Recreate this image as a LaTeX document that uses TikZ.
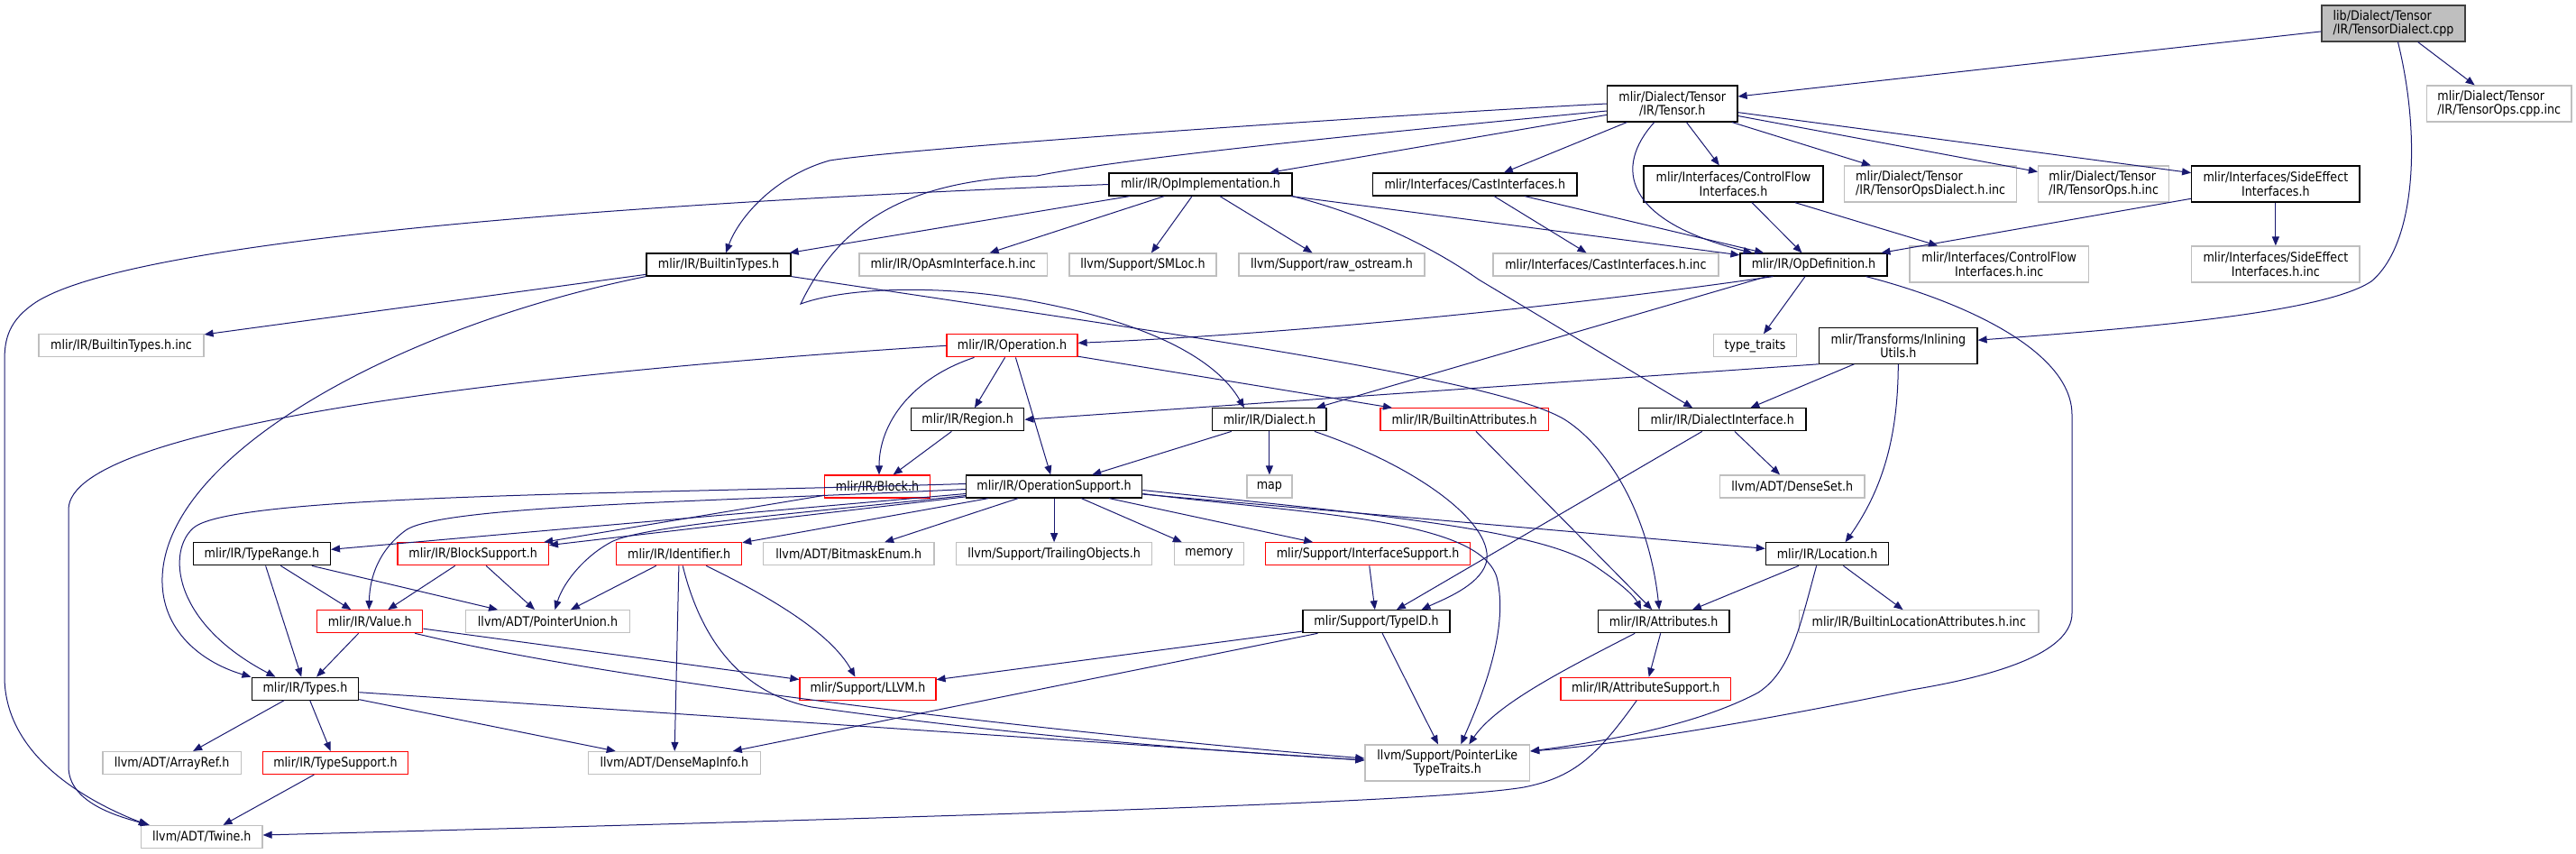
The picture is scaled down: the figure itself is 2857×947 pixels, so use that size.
\documentclass[tikz,border=0pt]{standalone}
\usepackage{fontspec}
\setmainfont{DejaVu Sans}[FakeStretch=0.87]
\usetikzlibrary{arrows.meta}
\definecolor{edgec}{HTML}{191970}
\definecolor{greyb}{HTML}{BFBFBF}
\definecolor{mainb}{HTML}{404040}
\definecolor{redb}{HTML}{FF0000}
\tikzset{
 base/.style={rectangle, inner sep=0pt, minimum height=25pt, line width=1.2pt, fill=white, font=\fontsize{14.6}{15.2}\selectfont, text=black, align=center},
 blk/.style={base, draw=black},
 gry/.style={base, draw=greyb},
 rd/.style={base, draw=redb},
 mainn/.style={base, draw=mainb, fill=greyb},
 twoln/.style={minimum height=40pt},
 e/.style={draw=edgec, line width=1pt, -{Triangle[length=10pt,width=8pt]}},
}
\begin{document}
\begin{tikzpicture}[x=1pt,y=-1pt]
\useasboundingbox (0,0) rectangle (2857,947);
% nodes
\node[mainn,twoln,minimum width=159pt,align=left] (cpp) at (2654.5,26) {lib/Dialect/Tensor\\/IR/TensorDialect.cpp};
\node[blk,twoln,minimum width=144.5pt] (tensorh) at (1854.75,115) {mlir/Dialect/Tensor\\/IR/Tensor.h};
\node[gry,twoln,minimum width=160.5pt,align=left] (opscppinc) at (2771.75,115) {mlir/Dialect/Tensor\\/IR/TensorOps.cpp.inc};
\node[blk,minimum width=203pt] (opimpl) at (1331.5,204.5) {mlir/IR/OpImplementation.h};
\node[blk,minimum width=226.4pt] (castif) at (1635.8,204.5) {mlir/Interfaces/CastInterfaces.h};
\node[blk,twoln,minimum width=199pt] (cfif) at (1922.5,204) {mlir/Interfaces/ControlFlow\\Interfaces.h};
\node[gry,twoln,minimum width=191pt,align=left] (opsdialinc) at (2141.1,204) {mlir/Dialect/Tensor\\/IR/TensorOpsDialect.h.inc};
\node[gry,twoln,minimum width=145.3pt,align=left] (opshinc) at (2333.15,204) {mlir/Dialect/Tensor\\/IR/TensorOps.h.inc};
\node[blk,twoln,minimum width=186.3pt] (seif) at (2523.85,204) {mlir/Interfaces/SideEffect\\Interfaces.h};
\node[blk,minimum width=160pt] (builtintypes) at (797,293.5) {mlir/IR/BuiltinTypes.h};
\node[gry,minimum width=208.5pt] (opasminc) at (1057.25,293.5) {mlir/IR/OpAsmInterface.h.inc};
\node[gry,minimum width=163pt] (smloc) at (1267.5,293.5) {llvm/Support/SMLoc.h};
\node[gry,minimum width=206pt] (rawos) at (1477,293.5) {llvm/Support/raw\_ostream.h};
\node[gry,minimum width=250pt] (castinc) at (1780.9,293.5) {mlir/Interfaces/CastInterfaces.h.inc};
\node[blk,minimum width=163pt] (opdef) at (2011.5,293.5) {mlir/IR/OpDefinition.h};
\node[gry,twoln,minimum width=198.5pt] (cfinc) at (2217.25,293) {mlir/Interfaces/ControlFlow\\Interfaces.h.inc};
\node[gry,twoln,minimum width=186.3pt] (seinc) at (2523.85,293) {mlir/Interfaces/SideEffect\\Interfaces.h.inc};
\node[gry,minimum width=183pt] (btinc) at (134.5,383.3) {mlir/IR/BuiltinTypes.h.inc};
\node[rd,minimum width=145pt] (operation) at (1122.5,383.3) {mlir/IR/Operation.h};
\node[gry,minimum width=92pt] (typetraits) at (1946.5,383.3) {type\_traits};
\node[blk,twoln,minimum width=175.4pt] (inlining) at (2105.3,383.2) {mlir/Transforms/Inlining\\Utils.h};
\node[blk,minimum width=125.4pt] (region) at (1073.1,465.3) {mlir/IR/Region.h};
\node[blk,minimum width=126.3pt] (dialect) at (1407.9,465.3) {mlir/IR/Dialect.h};
\node[rd,minimum width=186.4pt] (battrs) at (1624.1,465.3) {mlir/IR/BuiltinAttributes.h};
\node[blk,minimum width=185.6pt] (dialif) at (1910.2,465.3) {mlir/IR/DialectInterface.h};
\node[rd,minimum width=117pt] (block) at (973,539.5) {mlir/IR/Block.h};
\node[blk,minimum width=195.2pt] (opsupport) at (1169.1,539.5) {mlir/IR/OperationSupport.h};
\node[gry,minimum width=50pt] (map) at (1407.9,539.5) {map};
\node[gry,minimum width=160.6pt] (denseset) at (1987.7,539.5) {llvm/ADT/DenseSet.h};
\node[blk,minimum width=152pt] (typerange) at (290.4,614.3) {mlir/IR/TypeRange.h};
\node[rd,minimum width=167.4pt] (blocksupport) at (524.7,614.3) {mlir/IR/BlockSupport.h};
\node[rd,minimum width=138.8pt] (identifier) at (753.2,614.3) {mlir/IR/Identifier.h};
\node[gry,minimum width=189.5pt] (bitmask) at (941.25,614.3) {llvm/ADT/BitmaskEnum.h};
\node[gry,minimum width=217.2pt] (trailing) at (1169.1,614.3) {llvm/Support/TrailingObjects.h};
\node[gry,minimum width=77pt] (memory) at (1341,614.3) {memory};
\node[rd,minimum width=226.8pt] (ifsupport) at (1517.1,614.3) {mlir/Support/InterfaceSupport.h};
\node[blk,minimum width=136.4pt] (location) at (2026.6,614.3) {mlir/IR/Location.h};
\node[rd,minimum width=117pt] (value) at (410.25,689.2) {mlir/IR/Value.h};
\node[gry,minimum width=181.8pt] (punion) at (607.5,689.2) {llvm/ADT/PointerUnion.h};
\node[blk,minimum width=163pt] (typeid) at (1526.5,689.2) {mlir/Support/TypeID.h};
\node[blk,minimum width=145.6pt] (attributes) at (1845.2,689.2) {mlir/IR/Attributes.h};
\node[gry,minimum width=265.4pt] (blainc) at (2128.3,689.2) {mlir/IR/BuiltinLocationAttributes.h.inc};
\node[blk,minimum width=118.5pt] (types) at (338.45,763.7) {mlir/IR/Types.h};
\node[rd,minimum width=151pt] (llvmh) at (962.45,763.7) {mlir/Support/LLVM.h};
\node[rd,minimum width=188.4pt] (attrsupport) at (1825.2,763.7) {mlir/IR/AttributeSupport.h};
\node[gry,minimum width=153.4pt] (arrayref) at (190.6,846) {llvm/ADT/ArrayRef.h};
\node[rd,minimum width=161.7pt] (typesupport) at (371.95,846) {mlir/IR/TypeSupport.h};
\node[gry,minimum width=190.8pt] (densemapinfo) at (747.9,846) {llvm/ADT/DenseMapInfo.h};
\node[gry,twoln,minimum width=182.7pt] (plt) at (1605.25,846) {llvm/Support/PointerLike\\TypeTraits.h};
\node[gry,minimum width=134.4pt] (twine) at (223.8,928) {llvm/ADT/Twine.h};
% edges from TensorDialect.cpp
\draw[e] (cpp) -- (tensorh);
\draw[e] (cpp) -- (opscppinc);
\draw[e] ([xshift=5pt]cpp.south) .. controls (2685,150) and (2680,270) .. (2630,312) .. controls (2580,345) and (2400,362) .. ([yshift=6pt]inlining.east);
% Tensor.h
\draw[e] (tensorh.west) .. controls (1500,130) and (1000,165) .. (920,178) .. controls (860,195) and (820,240) .. ([xshift=8pt]builtintypes.north);
\draw[e] (tensorh) -- (opimpl);
\draw[e] ([yshift=-8pt]tensorh.west) .. controls (1500,150) and (1250,175) .. (1150,195) .. controls (1000,200) and (930,250) .. (888,337) .. controls (940,318) and (1050,315) .. (1150,335) .. controls (1280,360) and (1350,400) .. ([xshift=-28pt]dialect.north);
\draw[e] ([xshift=-20pt]tensorh.south) .. controls (1790,185) and (1800,245) .. ([xshift=-68pt]opdef.north);
\draw[e] (tensorh) -- (castif);
\draw[e] (tensorh) -- (cfif);
\draw[e] (tensorh) -- (opsdialinc);
\draw[e] (tensorh) -- (opshinc);
\draw[e] (tensorh) -- (seif);
% interfaces
\draw[e] (castif) -- (castinc);
\draw[e] (castif) -- (opdef);
\draw[e] (cfif) -- (opdef);
\draw[e] (cfif) -- (cfinc);
\draw[e] (seif) -- (opdef);
\draw[e] (seif) -- (seinc);
% OpImplementation.h
\draw[e] (opimpl) -- (builtintypes);
\draw[e] (opimpl) -- (opasminc);
\draw[e] (opimpl) -- (smloc);
\draw[e] (opimpl) -- (rawos);
\draw[e] (opimpl) -- (opdef);
\draw[e] (opimpl.south east) .. controls (1520,240) and (1590,275) .. (1640,310) -- ([xshift=-33pt]dialif.north);
\draw[e] (opimpl.west) .. controls (700,225) and (150,265) .. (40,335) .. controls (10,355) and (5,375) .. (5,400) -- (5,750) .. controls (5,840) and (100,890) .. ([xshift=-60pt]twine.north);
% OpDefinition.h
\draw[e] ([xshift=-45pt]opdef.south) .. controls (1700,345) and (1400,372) .. ([yshift=3pt]operation.east);
\draw[e] ([xshift=-52pt]opdef.south) -- ([xshift=52pt]dialect.north);
\draw[e] (opdef) -- (typetraits);
\draw[e] ([xshift=58pt]opdef.south) .. controls (2180,335) and (2298,390) .. (2298,460) -- (2298,680) .. controls (2298,725) and (2210,750) .. (2120,765) .. controls (1950,800) and (1800,825) .. ([yshift=13pt]plt.east);
% Operation.h
\draw[e] (operation) -- (region);
\draw[e] ([xshift=-42pt]operation.south) .. controls (1010,420) and (975,470) .. ([xshift=2pt]block.north);
\draw[e] (operation) -- (opsupport);
\draw[e] (operation) -- (battrs);
\draw[e] (operation.west) .. controls (600,412) and (76,470) .. (76,565) -- (76,850) .. controls (76,890) and (130,905) .. ([xshift=-58pt]twine.north);
% InliningUtils.h
\draw[e] (inlining.south west) -- (region.east);
\draw[e] (inlining) -- (dialif);
\draw[e] (inlining.south) .. controls (2105,480) and (2090,540) .. ([xshift=20pt]location.north);
% Region, Dialect, DialectInterface
\draw[e] (region) -- (block);
\draw[e] (dialect) -- (opsupport);
\draw[e] (dialect) -- (map);
\draw[e] ([xshift=50pt]dialect.south) .. controls (1580,520) and (1660,585) .. (1648,625) .. controls (1640,650) and (1600,665) .. ([xshift=50pt]typeid.north);
\draw[e] (dialif) -- (typeid);
\draw[e] (dialif) -- (denseset);
\draw[e] (battrs) -- (attributes);
% BuiltinTypes.h
\draw[e] (builtintypes) -- (btinc);
\draw[e] (builtintypes.south west) .. controls (450,360) and (185,500) .. (180,640) .. controls (178,700) and (225,735) .. ([xshift=-60pt]types.north);
\draw[e] (builtintypes.south east) .. controls (1300,370) and (1660,420) .. (1735,465) .. controls (1790,500) and (1830,580) .. ([xshift=-5pt]attributes.north);
% OperationSupport.h
\draw[e] ([yshift=-8pt]opsupport.west) -- ([yshift=5pt]typerange.east);
\draw[e] (opsupport) -- (blocksupport);
\draw[e] (block) -- (blocksupport);
\draw[e] ([yshift=-3pt]opsupport.west) .. controls (800,556) and (490,560) .. (450,588) .. controls (420,610) and (410,640) .. ([xshift=-1pt]value.north);
\draw[e] ([yshift=3pt]opsupport.west) .. controls (700,548) and (260,548) .. (215,585) .. controls (185,610) and (190,690) .. ([xshift=-33pt]types.north);
\draw[e] ([yshift=-10pt]opsupport.west) .. controls (900,568) and (720,582) .. (680,600) .. controls (650,615) and (625,645) .. ([xshift=8pt]punion.north);
\draw[e] (opsupport) -- (identifier);
\draw[e] (opsupport) -- (bitmask);
\draw[e] (opsupport) -- (trailing);
\draw[e] (opsupport) -- (memory);
\draw[e] (opsupport) -- (ifsupport);
\draw[e] (opsupport) -- (location);
\draw[e] ([yshift=-4pt]opsupport.east) .. controls (1500,568) and (1700,585) .. (1765,625) .. controls (1795,645) and (1812,660) .. ([xshift=-25pt]attributes.north);
\draw[e] ([yshift=-8pt]opsupport.east) .. controls (1450,570) and (1640,575) .. (1660,640) .. controls (1675,700) and (1640,780) .. ([xshift=15pt]plt.north);
% TypeRange, BlockSupport, Identifier
\draw[e] (typerange) -- (value);
\draw[e] (typerange) -- (types);
\draw[e] (typerange) -- (punion);
\draw[e] (blocksupport) -- (value);
\draw[e] (blocksupport) -- (punion);
\draw[e] (identifier) -- (punion);
\draw[e] (identifier) -- (densemapinfo);
\draw[e] ([xshift=30pt]identifier.south) .. controls (850,660) and (920,700) .. ([xshift=-14pt]llvmh.north);
\draw[e] ([xshift=4pt]identifier.south) .. controls (780,720) and (830,770) .. (900,784) .. controls (1100,812) and (1300,830) .. ([yshift=3pt]plt.west);
% Value, Types, TypeSupport
\draw[e] (value) -- (types);
\draw[e] (value) -- (llvmh);
\draw[e] ([xshift=50pt]value.south) .. controls (700,760) and (1200,815) .. ([yshift=5pt]plt.west);
\draw[e] (types) -- (arrayref);
\draw[e] (types) -- (typesupport);
\draw[e] (types) -- (densemapinfo);
\draw[e] ([yshift=-4pt]types.east) -- ([yshift=3pt]plt.west);
\draw[e] (typesupport) -- (twine);
% TypeID, InterfaceSupport
\draw[e] (typeid) -- (llvmh);
\draw[e] (typeid) -- (densemapinfo);
\draw[e] (typeid) -- (plt);
\draw[e] (ifsupport) -- (typeid);
% Attributes, AttributeSupport, Location
\draw[e] (attributes) -- (attrsupport);
\draw[e] ([xshift=-32pt]attributes.south) .. controls (1740,740) and (1660,780) .. ([xshift=24pt]plt.north);
\draw[e] ([xshift=-10pt]attrsupport.south) .. controls (1770,840) and (1745,862) .. (1690,873) .. controls (1600,888) and (1200,902) .. ([yshift=2pt]twine.east);
\draw[e] (location) -- (attributes);
\draw[e] (location) -- (blainc);
\draw[e] ([xshift=-12pt]location.south) .. controls (1995,700) and (1985,745) .. (1950,768) .. controls (1880,805) and (1780,822) .. ([yshift=13pt]plt.east);
\end{tikzpicture}
\end{document}
